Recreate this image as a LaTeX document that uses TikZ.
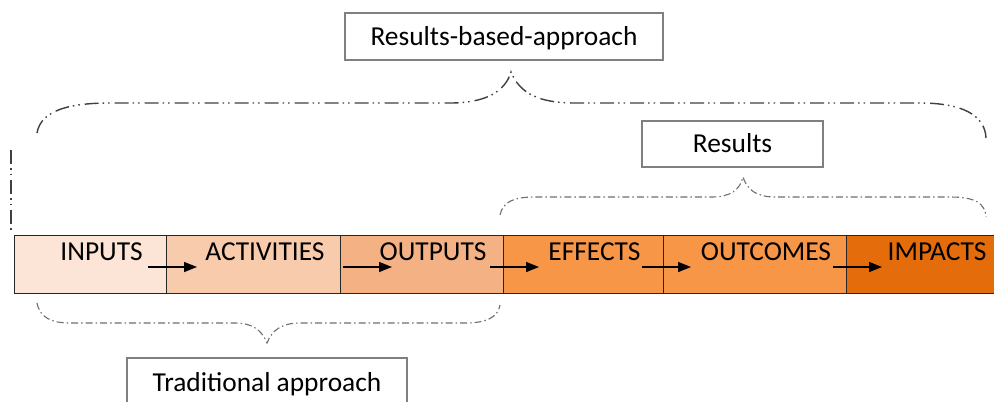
\documentclass[tikz,border=0pt]{standalone}
\usepackage{fontspec}
\setmainfont{Carlito}
\usetikzlibrary{arrows.meta,calc}
\definecolor{cinp}{HTML}{FCE4D6}
\definecolor{cact}{HTML}{F8CBAD}
\definecolor{cout}{HTML}{F4B183}
\definecolor{ceff}{HTML}{F79646}
\definecolor{cimp}{HTML}{E46C0A}
\definecolor{bracegray}{HTML}{707070}
\definecolor{boxgray}{HTML}{808080}
\begin{document}
\begin{tikzpicture}[x=1bp,y=-1bp,
  cell/.style={draw=black!85, line width=1bp, minimum height=58bp, inner sep=0pt, anchor=north west},
  lbl/.style={anchor=base, inner sep=0pt, font=\fontsize{27.5}{32}\selectfont},
  tagbox/.style={draw=boxgray, line width=1.3bp, fill=white, inner sep=0pt,
    text height=17.4bp, text depth=0pt, font=\fontsize{27.5}{32}\selectfont},
  flow/.style={line width=1.4bp, -{Triangle[length=13bp,width=10bp]}},
  bigbrace/.style={draw=black!75, line width=1.4bp,
    dash pattern=on 14bp off 4bp on 1.5bp off 4bp on 1.5bp off 5bp},
  smallbrace/.style={draw=bracegray, line width=1.1bp,
    dash pattern=on 7bp off 3bp on 1.5bp off 3bp}]
\clip (0,0) rectangle (994,401);
\fill[white] (0,0) rectangle (994,401);

% the six stages of the chain
\node[cell, fill=cinp, minimum width=151.7bp] (c1) at (14,235) {};
\node[cell, fill=cact, minimum width=174.3bp] (c2) at (165.7,235) {};
\node[cell, fill=cout, minimum width=162.7bp] (c3) at (340,235) {};
\node[cell, fill=ceff, minimum width=160bp]   (c4) at (502.7,235) {};
\node[cell, fill=ceff, minimum width=183.6bp] (c5) at (662.7,235) {};
\node[cell, fill=cimp, minimum width=160bp]   (c6) at (846.3,235) {};

\node[lbl] (t1) at (101.5,260) {INPUTS};
\node[lbl] (t2) at (265,260) {ACTIVITIES};
\node[lbl] (t3) at (433,260) {OUTPUTS};
\node[lbl] (t4) at (594.5,260) {EFFECTS};
\node[lbl] (t5) at (766,260) {OUTCOMES};
\node[lbl] (t6) at (937,260) {IMPACTS};

% arrows between stages
\coordinate (a1s) at (148,267);  \coordinate (a1e) at (197,267);
\coordinate (a2s) at (343,267);  \coordinate (a2e) at (392,267);
\coordinate (a3s) at (490,267);  \coordinate (a3e) at (539,267);
\coordinate (a4s) at (642,267);  \coordinate (a4e) at (691,267);
\coordinate (a5s) at (833,267);  \coordinate (a5e) at (882,267);
\draw[flow] (a1s) -- (a1e);
\draw[flow] (a2s) -- (a2e);
\draw[flow] (a3s) -- (a3e);
\draw[flow] (a4s) -- (a4e);
\draw[flow] (a5s) -- (a5e);

% caption boxes
\node[tagbox, minimum width=318bp, minimum height=47bp] (rba) at (504,36.5) {Results-based-approach};
\node[tagbox, minimum width=181bp, minimum height=46bp] (res) at (732.5,144) {Results};
\node[tagbox, minimum width=280bp, minimum height=50bp] (trad) at (267,383) {Traditional approach};

% brace over the whole chain
\coordinate (bL) at (37,133);
\coordinate (bT) at (511,72);
\coordinate (bR) at (986,138);
\draw[bigbrace] (bL) .. controls (41,110) and (70,103) .. (110,103) -- (450,103)
  .. controls (485,103) and (505,92) .. (bT)
  .. controls (520,94) and (540,103) .. (575,103) -- (920,103)
  .. controls (962,103) and (985,115) .. (bR);
\coordinate (vT) at (11,150);
\coordinate (vB) at (11,232);
\draw[bigbrace] (vT) -- (vB);

% brace over the results
\coordinate (rL) at (500,215);
\coordinate (rT) at (743,177);
\coordinate (rR) at (986,217);
\draw[smallbrace] (rL) .. controls (503,201) and (515,197) .. (535,197) -- (712,197)
  .. controls (730,197) and (740,190) .. (rT)
  .. controls (747,190) and (757,197) .. (775,197) -- (950,197)
  .. controls (975,197) and (985,203) .. (rR);

% brace under the traditional part
\coordinate (tL) at (37,303);
\coordinate (tT) at (267,343);
\coordinate (tR) at (500,305);
\draw[smallbrace] (tL) .. controls (40,318) and (52,323) .. (70,323) -- (235,323)
  .. controls (252,323) and (262,330) .. (tT)
  .. controls (272,330) and (282,323) .. (300,323) -- (465,323)
  .. controls (485,323) and (498,318) .. (tR);
\end{tikzpicture}
\end{document}
